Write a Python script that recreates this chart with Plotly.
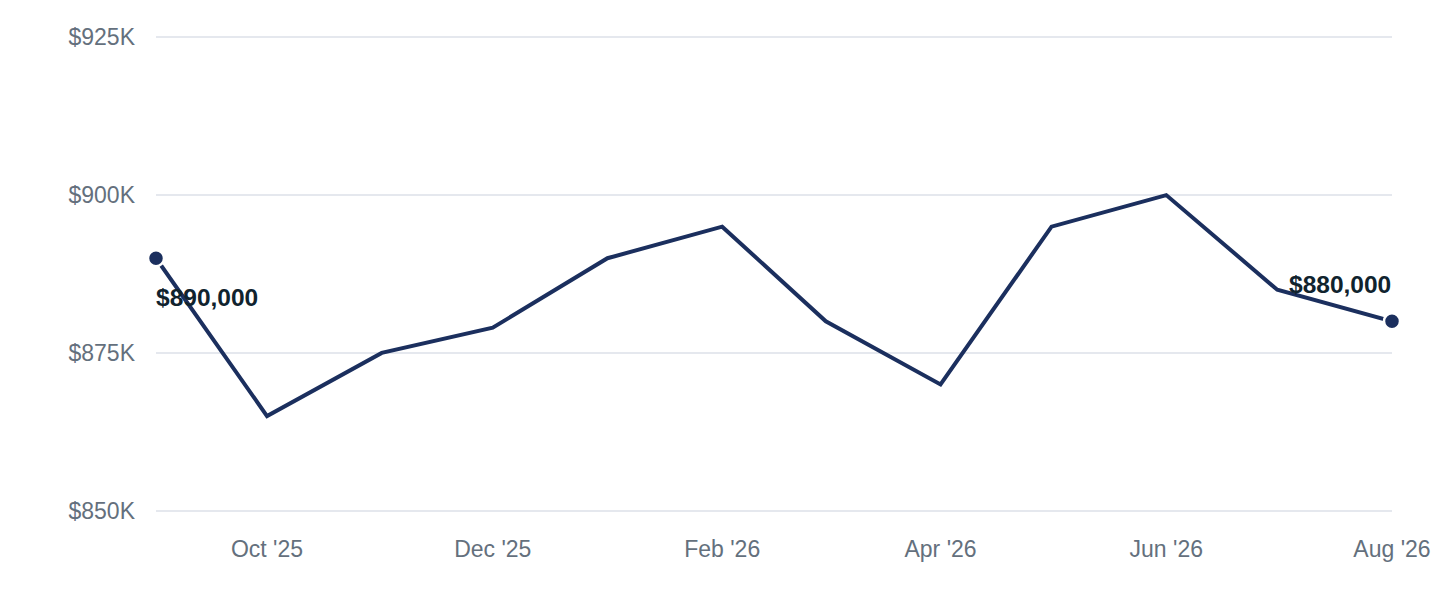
import plotly.graph_objects as go

# monthly values, Sep '25 .. Aug '26
months = ["2025-09-01", "2025-10-01", "2025-11-01", "2025-12-01",
          "2026-01-01", "2026-02-01", "2026-03-01", "2026-04-01",
          "2026-05-01", "2026-06-01", "2026-07-01", "2026-08-01"]
values = [890000, 865000, 875000, 879000, 890000, 895000,
          880000, 870000, 895000, 900000, 885000, 880000]

y_ticks = [850000, 875000, 900000, 925000]
y_tick_text = ["$850K", "$875K", "$900K", "$925K"]

NAVY = "#1b2f5e"
INK = "#10232e"
MUTED = "#64707d"
FONT = "Liberation Sans, Arial, sans-serif"

fig = go.Figure()

fig.add_trace(go.Scatter(
    x=months, y=values, mode="lines",
    line=dict(color=NAVY, width=4),
    hoverinfo="skip", showlegend=False,
))

# end-point markers
ends_x = [months[0], months[-1]]
ends_y = [values[0], values[-1]]
fig.add_trace(go.Scatter(
    x=ends_x, y=ends_y, mode="markers",
    marker=dict(color=NAVY, size=16, line=dict(color="white", width=2.5)),
    cliponaxis=False, hoverinfo="skip", showlegend=False,
))

# value labels for first and last month
fig.add_annotation(x=ends_x[0], y=ends_y[0], text=f"<b>${ends_y[0]:,.0f}</b>",
                   showarrow=False, xanchor="left", yanchor="top",
                   xshift=-2, yshift=-24)
fig.add_annotation(x=ends_x[1], y=ends_y[1], text=f"<b>${ends_y[1]:,.0f}</b>",
                   showarrow=False, xanchor="right", yanchor="bottom",
                   xshift=1, yshift=21)
fig.update_annotations(font=dict(family=FONT, size=24.5, color=INK))

fig.update_layout(
    width=1440, height=600,
    margin=dict(l=148, r=56, t=28, b=96),
    paper_bgcolor="white", plot_bgcolor="white",
    font=dict(family=FONT, size=23, color=MUTED),
    xaxis=dict(
        type="date", range=[months[0], months[-1]],
        dtick="M2", tick0="2025-10-01", tickformat="%b '%y",
        showgrid=False, zeroline=False, showline=False,
        ticks="", ticklabelstandoff=21,
    ),
    yaxis=dict(
        range=[849800, 925200], tickvals=y_ticks, ticktext=y_tick_text,
        showgrid=True, gridcolor="#e5e8ee", gridwidth=1.5,
        zeroline=False, showline=False, ticks="", ticklabelstandoff=20,
    ),
)

fig.write_html("out.html")
